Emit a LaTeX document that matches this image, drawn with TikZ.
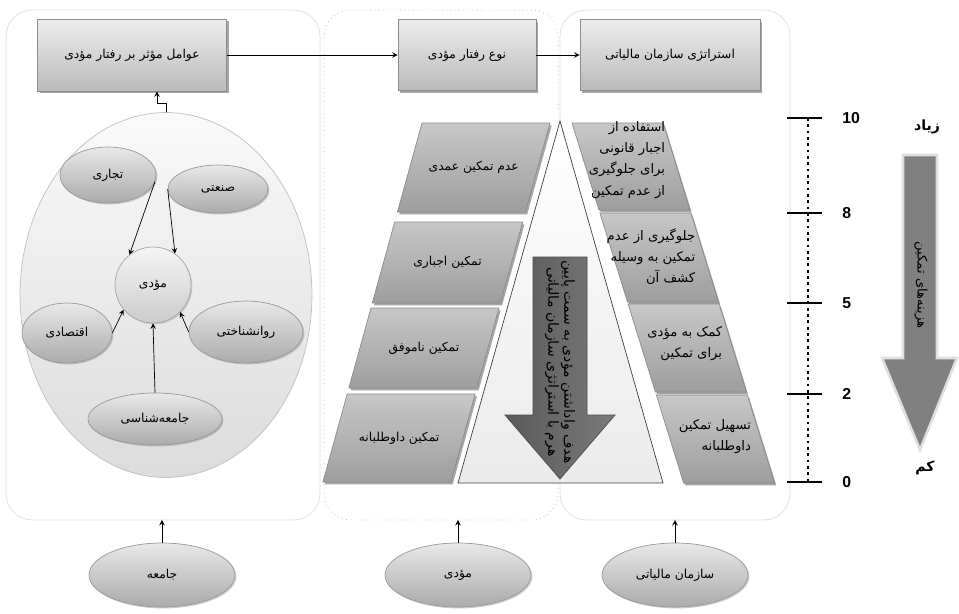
\documentclass[tikz,border=0pt]{standalone}
\usepackage{fontspec}
\usetikzlibrary{shapes.geometric,shadows}
\newfontfamily\fafont[Script=Arabic]{DejaVu Sans}
\newfontfamily\numfont{Liberation Sans}
\TeXXeTstate=1
\newcommand{\fatext}[1]{{\fafont\beginR #1\endR}}

\begin{document}
\begin{tikzpicture}[x=0.02cm, y=-0.02cm, >=stealth,
  every node/.style={font=\fontsize{7}{9}\selectfont, inner sep=0pt},
  panel/.style={rectangle, draw=gray!25, rounded corners=15pt, outer sep=0pt},
  topbox/.style={rectangle, draw=black!45, top color=black!7, bottom color=black!27,
    drop shadow={shadow xshift=1.2pt, shadow yshift=-1.2pt, opacity=0.7}},
  blob/.style={ellipse, draw=black!40, top color=black!9, bottom color=black!33,
    drop shadow={shadow xshift=0.8pt, shadow yshift=-0.8pt, opacity=0.4}},
  slab/.style={draw=black!45, top color=black!22, bottom color=black!38,
    drop shadow={shadow xshift=1pt, shadow yshift=-1.4pt, opacity=0.7}}]
  \useasboundingbox (0,0) rectangle (959,613);

  % 1. panels (background)
  \node[panel, minimum width=6.28cm, minimum height=10.2cm] (pleft) at (163,265) {};
  \node[panel, draw=gray!55, dotted, minimum width=4.68cm, minimum height=10.2cm] (pmid) at (441,265) {};
  \node[panel, minimum width=4.6cm, minimum height=10.2cm] (pright) at (675,265) {};

  % 2. top boxes
  \node[topbox, minimum width=3.78cm, minimum height=1.44cm] (t1) at (132,55) {\fatext{عوامل مؤثر بر رفتار مؤدی}};
  \node[topbox, minimum width=2.76cm, minimum height=1.42cm] (t2) at (467,55) {\fatext{نوع رفتار مؤدی}};
  \node[topbox, minimum width=3.6cm, minimum height=1.42cm] (t3) at (670,55) {\fatext{استراتژی سازمان مالیاتی}};
  \draw[->] (t1) -- (t2);
  \draw[->] (t2) -- (t3);

  % 3. factors around the taxpayer
  \node[ellipse, draw=black!25, top color=black!2, bottom color=black!14,
    minimum width=5.84cm, minimum height=7.3cm] (big) at (166,295) {};
  \coordinate (jog) at (157,103);
  \draw[->] (big.north) |- (jog) -- (jog |- t1.south);

  \node[circle, draw=black!35, top color=black!4, bottom color=black!20,
    drop shadow={shadow xshift=0.8pt, shadow yshift=-0.8pt, opacity=0.3},
    minimum size=1.52cm] (mod) at (153,285) {\fatext{مؤدی}};
  \node[blob, minimum width=1.92cm, minimum height=1.12cm] (tej) at (108,175) {\fatext{تجاری}};
  \node[blob, minimum width=2.0cm, minimum height=0.96cm] (san) at (218,189) {\fatext{صنعتی}};
  \node[blob, minimum width=1.8cm, minimum height=1.2cm] (eqt) at (67,333) {\fatext{اقتصادی}};
  \node[blob, minimum width=2.28cm, minimum height=1.24cm] (rav) at (246,332) {\fatext{روانشناختی}};
  \node[blob, minimum width=2.68cm, minimum height=1.04cm] (jsh) at (155,419) {\fatext{جامعه‌شناسی}};

  \draw[->] (tej.-8) -- (mod.128);
  \draw[->] (san.west) -- (mod.55);
  \draw[->] (eqt.east) -- (mod.220);
  \draw[->] (rav.west) -- (mod.-45);
  \draw[->] (jsh.north) -- (mod.south);

  % 4. taxpayer behaviour (slanted boxes)
  \foreach \i/\ya/\yb/\txt in {1/123/212/{عدم تمکین عمدی}, 2/222/303/{تمکین اجباری},
      3/308/388/{تمکین ناموفق}, 4/394/482/{تمکین داوطلبانه}} {
    \path[slab] ({422-0.276*(\ya-123)},\ya) -- ++(128,0)
      -- ({550-0.276*(\yb-123)},\yb) -- ++(-128,0) -- cycle;
    \node (m\i) at ({486-0.276*((\ya+\yb)/2-123)},{(\ya+\yb)/2}) {\fatext{\txt}};
  }

  % 5. pyramid with arrow
  \draw[draw=black!75, top color=white, bottom color=black!8]
    (560,121) -- (663,483) -- (458,483) -- cycle;
  \draw[draw=black!70, left color=black!65, right color=black!52]
    (533,257) -- (587,257) -- (587,415) -- (615,415) -- (560,479)
    -- (505,415) -- (533,415) -- cycle;
  \node[rotate=-90, align=center, font=\fontsize{8}{9}\selectfont] (goal) at (560,362)
    {\fatext{هدف واداشتن مؤدی به سمت پایین}\\\fatext{هرم با استراتژی سازمان مالیاتی}};

  % 6. strategy of the tax office (slanted boxes)
  \foreach \i/\ya/\yb/\ty/\txt in {1/123/210/160/{\fatext{استفاده از}\\\fatext{اجبار قانونی}\\\fatext{برای جلوگیری}\\\fatext{از عدم تمکین}},
      2/213/302/257/{\fatext{جلوگیری از عدم}\\\fatext{تمکین به وسیله}\\\fatext{کشف آن}},
      3/304/392/344/{\fatext{کمک به مؤدی}\\\fatext{برای تمکین}},
      4/395/483/437/{\fatext{تسهیل تمکین}\\\fatext{داوطلبانه}}} {
    \path[slab] ({572+0.31*(\ya-123)},\ya) -- ++(91,0)
      -- ({663+0.31*(\yb-123)},\yb) -- ++(-91,0) -- cycle;
    \node[anchor=east, align=right, font=\fontsize{7.5}{12}\selectfont] (s\i)
      at ({654+0.31*(\ty-123)},\ty) {\txt};
  }

  % 7. scale
  \draw[line width=1.6pt, dotted] (808,118) -- (808,482);
  \foreach \yy/\lab in {118/10, 213/8, 303/5, 394/2, 482/0} {
    \draw[line width=1.6pt] (787,\yy) -- (822,\yy);
    \node[anchor=west, font=\numfont\bfseries\fontsize{9}{10}\selectfont] (n\lab) at (842,\yy) {\lab};
  }

  % 8. cost arrow
  \draw[draw=black!12, line width=1.5pt, fill=black!50]
    (903,155) -- (937,155) -- (937,358) -- (957,358) -- (920,450)
    -- (882,358) -- (903,358) -- cycle;
  \node[rotate=-90, font=\fontsize{7.5}{8}\selectfont] (cost) at (921,285) {\fatext{هزینه‌های تمکین}};
  \node[font=\bfseries\fontsize{8}{9}\selectfont] (much) at (927,127) {\fatext{زیاد}};
  \node[font=\bfseries\fontsize{8}{9}\selectfont] (few) at (925,468) {\fatext{کم}};

  % 9. actors
  \node[blob, minimum width=2.92cm, minimum height=1.28cm] (bjam) at (162,575) {\fatext{جامعه}};
  \node[blob, minimum width=2.92cm, minimum height=1.28cm] (bmod) at (458,575) {\fatext{مؤدی}};
  \node[blob, minimum width=2.92cm, minimum height=1.28cm] (bsaz) at (675,575) {\fatext{سازمان مالیاتی}};
  \draw[->] (bjam.north) -- (bjam.north |- pleft.south);
  \draw[->] (bmod.north) -- (bmod.north |- pmid.south);
  \draw[->] (bsaz.north) -- (bsaz.north |- pright.south);
\end{tikzpicture}
\end{document}
